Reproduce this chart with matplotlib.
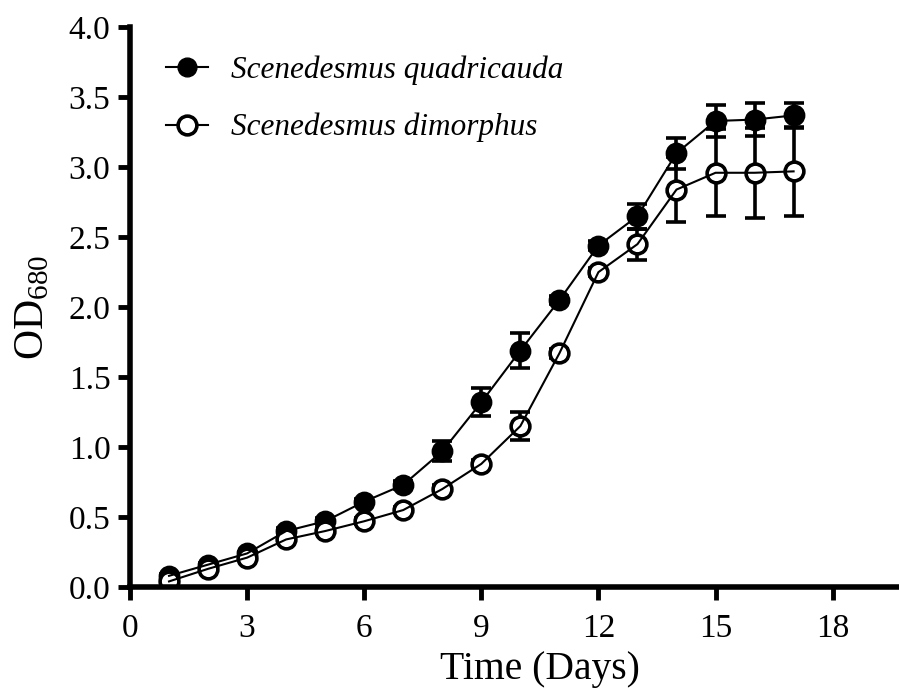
import matplotlib
matplotlib.use("Agg")
import matplotlib.pyplot as plt

plt.rcParams['font.family'] = ['Liberation Serif', 'DejaVu Serif']
plt.rcParams['mathtext.fontset'] = 'custom'
plt.rcParams['mathtext.rm'] = 'Liberation Serif'
plt.rcParams['mathtext.it'] = 'Liberation Serif:italic'

# datos
days = [1, 2, 3, 4, 5, 6, 7, 8, 9, 10, 11, 12, 13, 14, 15, 16, 17]
quad = [0.08, 0.16, 0.24, 0.40, 0.47, 0.61, 0.73, 0.97, 1.32, 1.69, 2.05, 2.44, 2.65, 3.10, 3.33, 3.34, 3.37]
quad_err = [0.01, 0.01, 0.01, 0.02, 0.02, 0.02, 0.03, 0.07, 0.10, 0.125, 0.03, 0.03, 0.09, 0.11, 0.115, 0.12, 0.09]
dimo = [0.04, 0.13, 0.21, 0.34, 0.40, 0.47, 0.55, 0.70, 0.88, 1.15, 1.67, 2.25, 2.45, 2.84, 2.96, 2.96, 2.97]
dimo_err = [0.01, 0.01, 0.01, 0.02, 0.02, 0.02, 0.02, 0.03, 0.03, 0.10, 0.03, 0.03, 0.11, 0.23, 0.31, 0.32, 0.32]

fig = plt.figure(figsize=(8.99, 6.98), dpi=100)
ax = fig.add_axes([0.1446, 0.159, 0.8554, 0.802])

eb = dict(fmt='none', ecolor='black', elinewidth=2.6, capsize=7.5, capthick=2.6, zorder=1)
ax.errorbar(days, quad, yerr=quad_err, **eb)
ax.errorbar(days, dimo, yerr=dimo_err, **eb)

# simbolos
ax.plot(days, quad, 'o', color='black', markersize=13.5, markeredgewidth=2.2, zorder=2)
ax.plot(days, dimo, 'o', markerfacecolor='white', markeredgecolor='black',
        markersize=13.5, markeredgewidth=2.6, zorder=2)
# lineas
ax.plot(days, quad, '-', color='black', linewidth=1.5, zorder=3)
ax.plot(days, dimo, '-', color='black', linewidth=1.5, zorder=3)

# leyenda
h1, = ax.plot([], [], '-o', color='black', markersize=13.5, linewidth=1.5)
h2, = ax.plot([], [], '-o', color='black', markerfacecolor='white',
              markersize=13.5, markeredgewidth=2.6, linewidth=1.5)
leg = ax.legend([h1, h2], ['Scenedesmus quadricauda', 'Scenedesmus dimorphus'],
                loc='upper left', bbox_to_anchor=(0.01, 1.0), frameon=False,
                prop={'style': 'italic', 'size': 22.5}, handlelength=1.34,
                handletextpad=0.75, labelspacing=0.9)

ax.set_xlim(0, 19.7)
ax.set_ylim(0, 4.0)
ax.set_xticks([0, 3, 6, 9, 12, 15, 18])
ax.set_yticks([0.0, 0.5, 1.0, 1.5, 2.0, 2.5, 3.0, 3.5, 4.0])
ax.set_yticklabels(['0.0', '0.5', '1.0', '1.5', '2.0', '2.5', '3.0', '3.5', '4.0'])

for s in ['top', 'right']:
    ax.spines[s].set_visible(False)
for s in ['left', 'bottom']:
    ax.spines[s].set_linewidth(4)
ax.tick_params(direction='out', width=3.5, length=9, labelsize=24)
ax.tick_params(axis='x', pad=10)
ax.tick_params(axis='y', pad=5)

ax.set_xlabel('Time (Days)', fontsize=28.5)
ax.xaxis.set_label_coords(0.533, -0.114)
ax.set_ylabel(r'OD$_{\mathrm{680}}$', fontsize=30)
ax.yaxis.set_label_coords(-0.101, 0.5)

fig.savefig('out.png', dpi=100)
